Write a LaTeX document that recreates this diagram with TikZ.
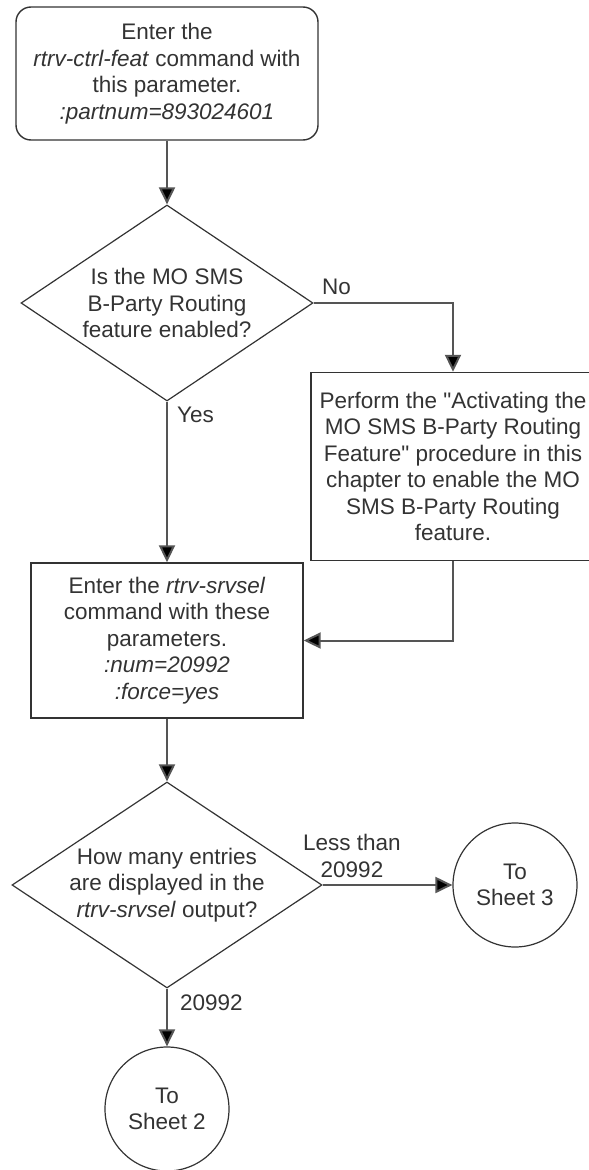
\documentclass[tikz,border=0pt]{standalone}
\usepackage{fontspec}
\setmainfont{Liberation Sans}
\usetikzlibrary{arrows.meta,shapes.geometric}
\definecolor{ink}{HTML}{333333}
\definecolor{wire}{HTML}{555555}
\begin{document}
\begin{tikzpicture}[x=1pt,y=-1pt,
  every node/.style={font=\fontsize{22.5}{26.5}\selectfont, text=ink, align=center, inner sep=0pt},
  startbox/.style={draw=ink, line width=1.4pt, rounded corners=15pt},
  procbox/.style={draw=ink, line width=1.4pt},
  decision/.style={draw=ink, line width=1.2pt, diamond, inner sep=0pt},
  offpage/.style={draw=ink, line width=1.2pt, circle, minimum size=124pt},
  conn/.style={draw=wire, line width=2pt, -{Triangle[width=16pt,length=17pt,fill=black]}},
  lbl/.style={anchor=west}
]
\useasboundingbox (0,0) rectangle (589,1170);

\node[startbox, minimum width=302pt, minimum height=133pt] (start) at (167,73.5)
  {Enter the\\\textit{rtrv-ctrl-feat} command with\\this parameter.\\\textit{:partnum=893024601}};

\node[decision, minimum width=292pt, minimum height=196pt] (d1) at (167,303) {};
\node (d1t) at (d1) {Is the MO SMS\\B-Party Routing\\feature enabled?};

\node[procbox, minimum width=284pt, minimum height=188pt] (proc) at (453,466.5)
  {Perform the \textquotedbl Activating the\\MO SMS B-Party Routing\\Feature\textquotedbl\ procedure in this\\chapter to enable the MO\\SMS B-Party Routing\\feature.};

\node[procbox, minimum width=272pt, minimum height=155pt] (cmd) at (167,640.5)
  {Enter the \textit{rtrv-srvsel}\\command with these\\parameters.\\\textit{:num=20992}\\\textit{:force=yes}};

\node[decision, minimum width=310pt, minimum height=206pt] (d2) at (167,885) {};
\node (d2t) at (d2) {How many entries\\are displayed in the\\\textit{rtrv-srvsel} output?};

\node[offpage] (c3) at (515,885) {To\\Sheet 3};
\node[offpage] (c2) at (167,1109) {To\\Sheet 2};

\draw[conn] (start) -- (d1);
\draw[conn] (d1.east) -| (proc.north);
\draw[conn] (d1.south) -- (cmd.north);
\draw[conn] (proc.south) |- (cmd.east);
\draw[conn] (cmd) -- (d2);
\draw[conn] (d2.east) -- (c3.west);
\draw[conn] (d2.south) -- (c2.north);

\node[lbl] (lno) at (322,287) {No};
\node[lbl] (lyes) at (177,415) {Yes};
\node (lless) at (352,856) {Less than\\20992};
\node[lbl] (lcount) at (180,1003) {20992};
\end{tikzpicture}
\end{document}
